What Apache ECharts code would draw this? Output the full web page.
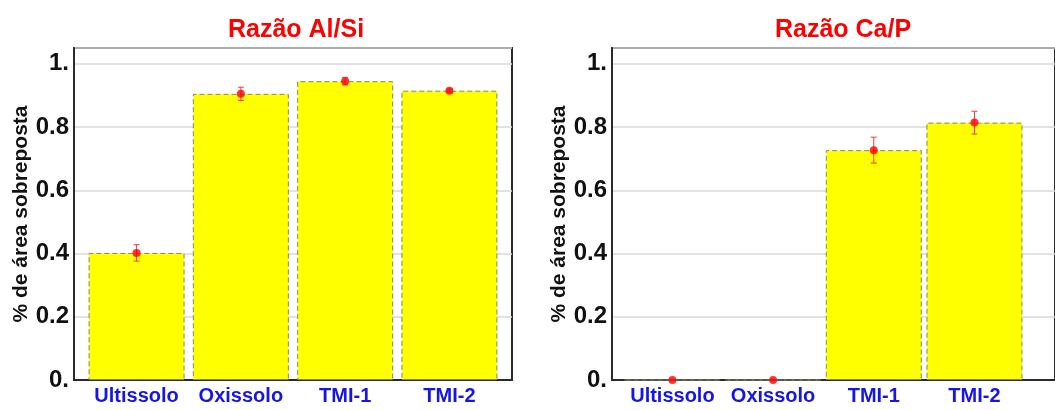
<!DOCTYPE html>
<html>
<head>
<meta charset="utf-8">
<script src="https://cdn.jsdelivr.net/npm/echarts@6/dist/echarts.min.js"></script>
<style>html,body{margin:0;padding:0;background:#fff}#c{width:1055px;height:410px}</style>
</head>
<body>
<div id="c"></div>
<script>
const categories = ['Ultissolo', 'Oxissolo', 'TMI-1', 'TMI-2'];
const titles = ['Razão Al/Si', 'Razão Ca/P'];
const yAxisName = '% de área sobreposta';
const alSiMean = [0.402, 0.905, 0.945, 0.915];
const alSiErr = [0.026, 0.021, 0.012, 0.005];
const caPMean = [0, 0, 0.727, 0.814];
const caPErr = [0, 0, 0.041, 0.036];
const yTicks = [0, 0.2, 0.4, 0.6, 0.8, 1.0];
const yTickLabels = ['0.', '0.2', '0.4', '0.6', '0.8', '1.'];

const FONT = '"Liberation Sans", Arial, sans-serif';
const chart = echarts.init(document.getElementById('c'), null, {renderer: 'canvas'});

const grids = [
  {left: 74, top: 48, width: 438, height: 332, xMax: 3.6, titleX: 291},
  {left: 612, top: 48, width: 462, height: 332, xMax: 3.8, titleX: 838}
];
const means = [alSiMean, caPMean];
const errs = [alSiErr, caPErr];

function yLabel(v) {
  for (let i = 0; i < yTicks.length; i++) if (Math.abs(yTicks[i] - v) < 1e-9) return yTickLabels[i];
  return '';
}

const option = {
  animation: false,
  backgroundColor: '#fff',
  title: grids.map((g, i) => ({text: titles[i], left: g.titleX, top: 13, textAlign: 'center',
     textStyle: {color: '#ff0000', fontSize: 25, fontWeight: 'bold', fontFamily: FONT}})),
  grid: grids.map(g => ({left: g.left, top: g.top, width: g.width, height: g.height,
    show: true, borderColor: '#2a2a2a', borderWidth: 2, backgroundColor: '#fff'})),
  xAxis: grids.map((g, i) => ({
    type: 'value', gridIndex: i, min: -0.6, max: g.xMax,
    splitLine: {show: false},
    axisLine: {show: true, onZero: false, lineStyle: {color: '#2a2a2a', width: 2}},
    axisTick: {show: false},
    axisLabel: {
      customValues: [0, 1, 2, 3],
      formatter: v => categories[Math.round(v)] || '',
      color: '#1515e6', fontSize: 20, fontWeight: 'bold', fontFamily: FONT, margin: 6
    }
  })),
  yAxis: grids.map((g, i) => ({
    type: 'value', gridIndex: i, min: 0, max: 1.05, interval: 0.2,
    name: yAxisName, nameLocation: 'middle', nameRotate: 90, nameGap: 42,
    nameTextStyle: {color: '#111', fontSize: 21, fontWeight: 'bold', fontFamily: FONT},
    axisLine: {show: true, onZero: false, lineStyle: {color: '#2a2a2a', width: 2}},
    axisTick: {show: false},
    splitLine: {show: true, lineStyle: {color: '#d8d8d8', width: 1.5}},
    axisLabel: {formatter: yLabel, color: '#111', fontSize: 24, fontWeight: 'bold', fontFamily: FONT, margin: 5,
      showMaxLabel: false}
  })),
  series: []
};

for (let i = 0; i < 2; i++) {
  option.series.push({
    type: 'bar', xAxisIndex: i, yAxisIndex: i, barWidth: 96,
    data: means[i].map((m, k) => [k, m]),
    itemStyle: {color: '#ffff00', borderColor: '#85856a', borderWidth: 1, borderType: [5, 3]}
  });
  option.series.push({
    type: 'custom', xAxisIndex: i, yAxisIndex: i, z: 5,
    data: means[i].map((m, k) => [k, m - errs[i][k], m + errs[i][k]]),
    renderItem: function (params, api) {
      const x = api.value(0);
      const lo = api.coord([x, api.value(1)]);
      const hi = api.coord([x, api.value(2)]);
      const w = 3;
      const st = {stroke: '#f03c3c', lineWidth: 1};
      return {type: 'group', children: [
        {type: 'line', shape: {x1: lo[0], y1: lo[1], x2: hi[0], y2: hi[1]}, style: st},
        {type: 'line', shape: {x1: lo[0] - w, y1: lo[1], x2: lo[0] + w, y2: lo[1]}, style: st},
        {type: 'line', shape: {x1: hi[0] - w, y1: hi[1], x2: hi[0] + w, y2: hi[1]}, style: st}
      ]};
    }
  });
  option.series.push({
    type: 'scatter', xAxisIndex: i, yAxisIndex: i, z: 6,
    symbol: 'circle', symbolSize: 8,
    data: means[i].map((m, k) => [k, m]),
    itemStyle: {color: '#ff0000'}
  });
}

chart.setOption(option);
</script>
</body>
</html>
